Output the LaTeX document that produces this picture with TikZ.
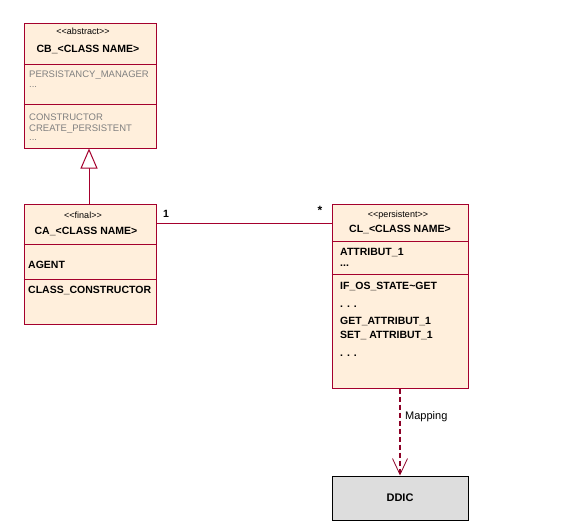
\documentclass[tikz,border=0pt]{standalone}
\usepackage{fontspec}
\setmainfont{Liberation Sans}
\usetikzlibrary{arrows.meta,calc}
\definecolor{umlborder}{RGB}{165,0,45}
\definecolor{umlfill}{RGB}{255,239,220}
\definecolor{umlgray}{RGB}{128,128,128}
\definecolor{ddicfill}{RGB}{221,221,221}
\begin{document}
\begin{tikzpicture}[x=1pt,y=-1pt,
  classbox/.style={draw=umlborder,fill=umlfill,line width=1pt,rectangle,inner sep=0pt},
  sepline/.style={draw=umlborder,line width=1pt},
  stereo/.style={font=\fontsize{9}{10}\selectfont,inner sep=0pt},
  cname/.style={font=\fontsize{10.5}{12}\selectfont\bfseries,inner sep=0pt},
  member/.style={font=\fontsize{10.5}{12}\selectfont\bfseries,inner sep=0pt,anchor=west},
  gmember/.style={font=\fontsize{9.5}{11}\selectfont,text=umlgray,inner sep=0pt,anchor=west},
  lbl/.style={font=\fontsize{11}{12}\selectfont,inner sep=0pt}]
\useasboundingbox (0,0) rectangle (576,528);

% CB class
\node[classbox,minimum width=132pt,minimum height=125pt] (cb) at (90,85.5) {};
\draw[sepline] (cb.west |- 0,64) -- (cb.east |- 0,64);
\draw[sepline] (cb.west |- 0,104) -- (cb.east |- 0,104);
\node[stereo] (cbs) at (83,31) {{<}{<}abstract{>}{>}};
\node[cname] (cbn) at (88,49) {CB\_{<}CLASS NAME{>}};
\node[gmember] (cba1) at (29,75) {PERSISTANCY\_MANAGER};
\node[gmember] (cba2) at (29,87) {...};
\node[gmember] (cbm1) at (29,117) {CONSTRUCTOR};
\node[gmember] (cbm2) at (29,129) {CREATE\_PERSISTENT};
\node[gmember] (cbm3) at (29,140) {...};

% CA class
\node[classbox,minimum width=132pt,minimum height=120pt] (ca) at (90,264) {};
\draw[sepline] (ca.west |- 0,244) -- (ca.east |- 0,244);
\draw[sepline] (ca.west |- 0,279) -- (ca.east |- 0,279);
\node[stereo] (cas) at (83,215) {{<}{<}final{>}{>}};
\node[cname] (can) at (86,231) {CA\_{<}CLASS NAME{>}};
\node[member] (caa) at (28,265) {AGENT};
\node[member] (cam) at (28,290) {CLASS\_CONSTRUCTOR};

% CL class
\node[classbox,minimum width=136pt,minimum height=184pt] (cl) at (400,296) {};
\draw[sepline] (cl.west |- 0,241) -- (cl.east |- 0,241);
\draw[sepline] (cl.west |- 0,274) -- (cl.east |- 0,274);
\node[stereo] (cls) at (398,215) {{<}{<}persistent{>}{>}};
\node[cname] (cln) at (400,229) {CL\_{<}CLASS NAME{>}};
\node[member] (cla1) at (340,253) {ATTRIBUT\_1};
\node[member] (cla2) at (340,266) {...};
\node[member] (clm1) at (340,286) {IF\_OS\_STATE\char`~GET};
\node[member] (clm2) at (340,307) {. . .};
\node[member] (clm3) at (340,321) {GET\_ATTRIBUT\_1};
\node[member] (clm4) at (340,335) {SET\_ ATTRIBUT\_1};
\node[member] (clm5) at (340,356) {. . .};

% DDIC
\node[draw=black,fill=ddicfill,line width=1pt,minimum width=136pt,minimum height=44pt,inner sep=0pt,
  font=\fontsize{11}{13}\selectfont\bfseries] (ddic) at (400,498) {DDIC};

% generalization
\draw[umlborder,line width=1pt,-{Triangle[open,length=20pt,width=17pt,fill=white]}]
  ([xshift=-1pt]ca.north) -- ([xshift=-1pt]cb.south);

% association
\coordinate (aL) at ($(ca.north east)+(0,20)$);
\draw[umlborder,line width=1pt] (aL) -- (cl.west |- aL);
\node[lbl,font=\fontsize{10.5}{12}\selectfont\bfseries] (m1) at (166,214) {1};
\node[lbl,font=\fontsize{12}{13}\selectfont\bfseries] (m2) at (320,210) {*};

% mapping dependency
\draw[umlborder!85!black,line width=2.4pt,dash pattern=on 5pt off 3pt,
  -{Straight Barb[length=16pt,width=15pt,line width=0.8pt]}]
  (cl.south) -- (ddic.north);
\node[lbl,anchor=west] (map) at (405,417) {Mapping};
\end{tikzpicture}
\end{document}
